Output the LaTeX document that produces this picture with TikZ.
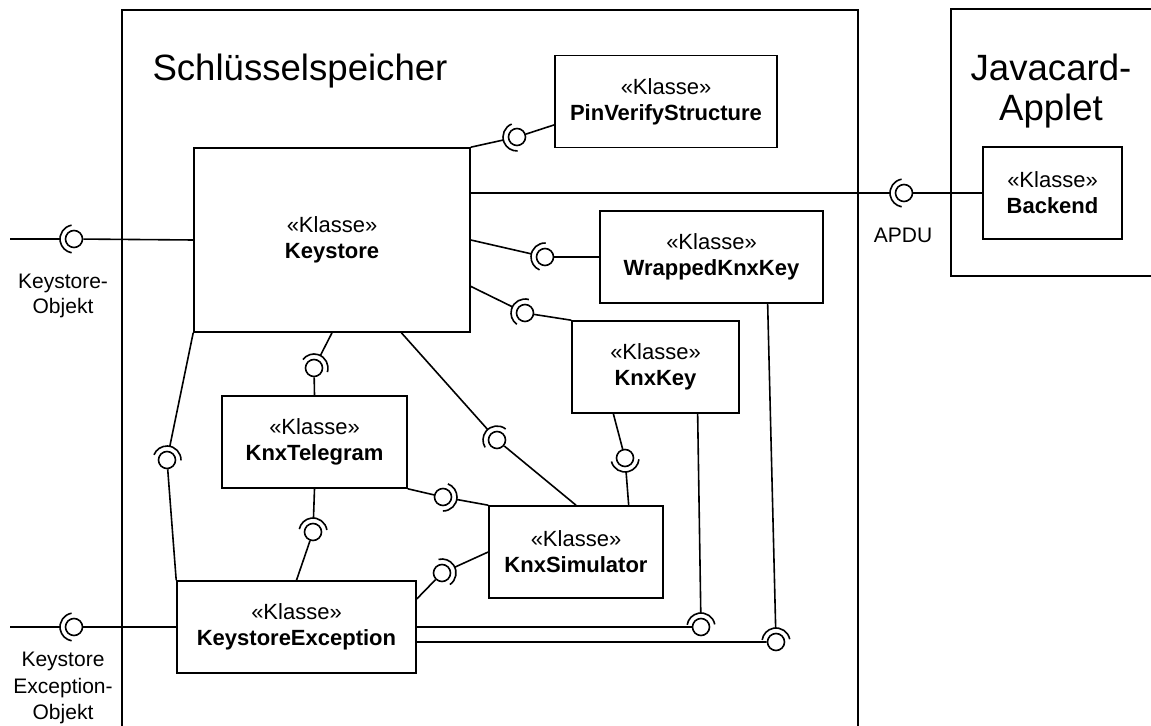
\documentclass[tikz,border=0pt]{standalone}
\usepackage{fontspec}
\setmainfont{Liberation Sans}
\usetikzlibrary{calc}

% socket (required interface) round a ball, opening towards the ball, with its line to #2
\newcommand{\reqsocket}[2]{%
  \draw let \p1 = (#2), \p2 = (#1.center), \n1 = {atan2(\y1-\y2,\x1-\x2)} in
    (\p2) ++(\n1-80:7pt) arc[start angle=\n1-80, end angle=\n1+80, radius=7pt]
    (\p2) ++(\n1:7pt) -- (\p1);}

\begin{document}
\begin{tikzpicture}[
    x=0.5pt, y=-0.5pt,
    line width=0.8pt,
    klasse/.style={draw, rectangle, align=center, inner sep=0pt, minimum height=46pt, font=\fontsize{11}{13}\selectfont},
    frame/.style={draw, rectangle, inner sep=0pt},
    ball/.style={draw, circle, inner sep=0pt, minimum size=8.5pt},
    lbl/.style={align=center, font=\fontsize{10.5}{12.3}\selectfont},
    title/.style={align=center, font=\fontsize{18.3}{20}\selectfont}
]
   \useasboundingbox (0,0) rectangle (1151,726);

   % Frames
   \node[frame, minimum width=368pt, minimum height=375pt] (store) at (490,385) {};
   \node[frame, minimum width=114.5pt, minimum height=133.5pt] (applet) at (1065.5,142.5) {};
   \node[title] (storeTitle) at (300,71) {Schlüsselspeicher};
   \node[title] (appletTitle) at (1051,91) {Javacard-\\Applet};

   % Classes
   \node[klasse, minimum width=138pt, minimum height=92pt] (keystore) at (332,240) {«Klasse»\\\textbf{Keystore}};
   \node[klasse, minimum width=111pt] (pin) at (666,101.5) {«Klasse»\\\textbf{PinVerifyStructure}};
   \node[klasse, minimum width=111.5pt] (wrapped) at (711.5,257) {«Klasse»\\\textbf{WrappedKnxKey}};
   \node[klasse, minimum width=83.5pt] (knxkey) at (655.5,367) {«Klasse»\\\textbf{KnxKey}};
   \node[klasse, minimum width=92.5pt] (telegram) at (314.5,442) {«Klasse»\\\textbf{KnxTelegram}};
   \node[klasse, minimum width=87pt] (simulator) at (576,552) {«Klasse»\\\textbf{KnxSimulator}};
   \node[klasse, minimum width=119.5pt] (exception) at (296.5,627) {«Klasse»\\\textbf{KeystoreException}};
   \node[klasse, minimum width=69.5pt] (backend) at (1052.5,193) {«Klasse»\\\textbf{Backend}};

   % Outer ends and labels
   \coordinate (ksoEnd) at (10,239);
   \coordinate (kseEnd) at (10,627);
   \node[lbl] (ksoLabel) at (63,296) {Keystore-\\Objekt};
   \node[lbl, font=\fontsize{10.5}{13.3}\selectfont] (kseLabel) at (63,688) {Keystore\\Exception-\\Objekt};
   \node[lbl] (apduLabel) at (903,235) {APDU};

   % Balls (provided interfaces)
   \node[ball] (bKso) at (74,239) {};
   \node[ball] (bKse) at (74,627) {};
   \node[ball] (bApdu) at (904,193) {};
   \node[ball] (bPin) at (517,137) {};
   \node[ball] (bWrap) at (545,257) {};
   \node[ball] (bKey) at (525,313) {};
   \node[ball] (bTel) at (314,368) {};
   \node[ball] (bSim) at (497,440) {};
   \node[ball] (bExc) at (167,460) {};
   \node[ball] (bKeySim) at (625,458) {};
   \node[ball] (bTelSim) at (443,497) {};
   \node[ball] (bTelExc) at (313,532) {};
   \node[ball] (bSimExc) at (442,573) {};
   \node[ball] (bKeyExc) at (701,627) {};
   \node[ball] (bWrapExc) at (776,642) {};

   % Providers
   \draw (keystore.west) -- (bKso);
   \draw (exception.west) -- (bKse);
   \draw (backend.west) -- (bApdu);
   \draw ($(pin.south west)!.25!(pin.north west)$) -- (bPin);
   \draw (wrapped.west) -- (bWrap);
   \draw (knxkey.north west) -- (bKey);
   \draw (telegram.north) -- (bTel);
   \draw (simulator.north) -- (bSim);
   \draw (exception.north west) -- (bExc);
   \draw ($(knxkey.south west)!.25!(knxkey.south east)$) -- (bKeySim);
   \draw (telegram.south east) -- (bTelSim);
   \draw (exception.north) -- (bTelExc);
   \draw ($(exception.north east)!.2!(exception.south east)$) -- (bSimExc);
   \draw (exception.east) -- (bKeyExc);
   \draw ($(exception.north east)!.66!(exception.south east)$) -- (bWrapExc);

   % Requirers
   \reqsocket{bKso}{ksoEnd}
   \reqsocket{bKse}{kseEnd}
   \reqsocket{bApdu}{keystore.east |- backend.west}
   \reqsocket{bPin}{keystore.north east}
   \reqsocket{bWrap}{keystore.east}
   \reqsocket{bKey}{$(keystore.north east)!.75!(keystore.south east)$}
   \reqsocket{bTel}{keystore.south}
   \reqsocket{bSim}{$(keystore.south)!.5!(keystore.south east)$}
   \reqsocket{bExc}{keystore.south west}
   \reqsocket{bKeySim}{$(simulator.north west)!.8!(simulator.north east)$}
   \reqsocket{bTelSim}{simulator.north west}
   \reqsocket{bTelExc}{telegram.south}
   \reqsocket{bSimExc}{simulator.west}
   \reqsocket{bKeyExc}{$(knxkey.south west)!.75!(knxkey.south east)$}
   \reqsocket{bWrapExc}{$(wrapped.south west)!.75!(wrapped.south east)$}

\end{tikzpicture}
\end{document}
